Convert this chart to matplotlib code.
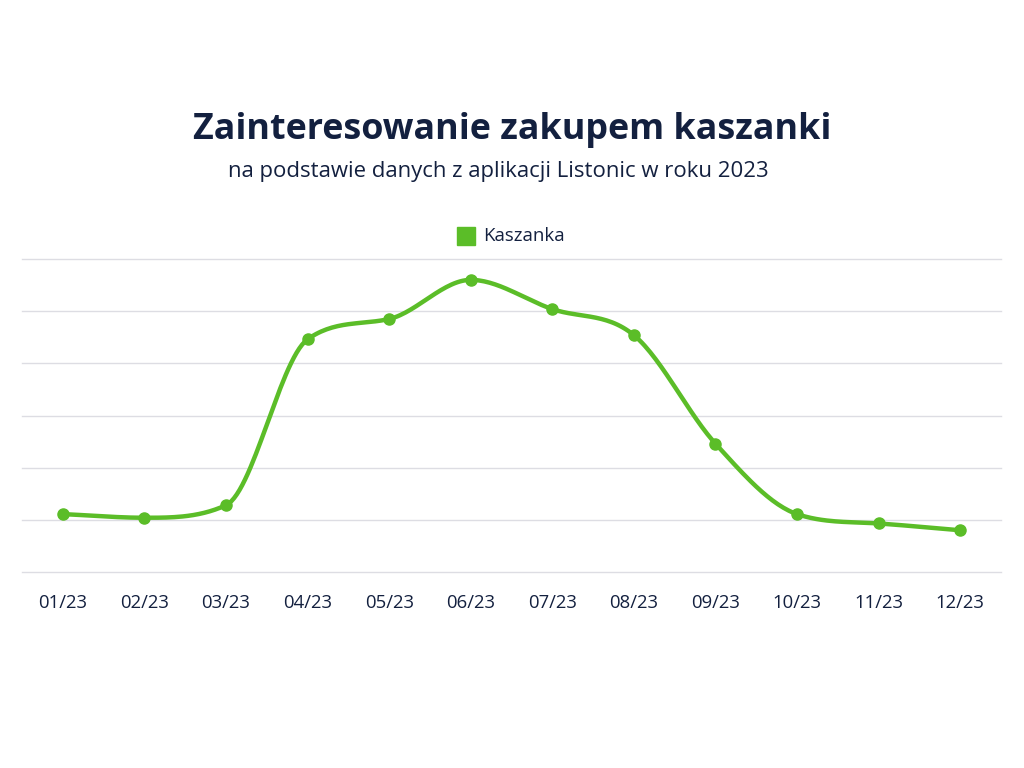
import numpy as np
import matplotlib
matplotlib.use("Agg")
import matplotlib.pyplot as plt

months = ["01/23", "02/23", "03/23", "04/23", "05/23", "06/23",
          "07/23", "08/23", "09/23", "10/23", "11/23", "12/23"]
kaszanka = [1.11, 1.04, 1.28, 4.46, 4.85, 5.60, 5.04, 4.54, 2.46, 1.11, 0.93, 0.80]

GREEN = "#5bbd28"
NAVY = "#13203f"
GRID = "#dddde3"

plt.rcParams["font.family"] = ["Open Sans", "DejaVu Sans"]


def monotone_curve(x, y, n=30):
    # monotone cubic (Fritsch-Carlson), only for drawing the smooth line
    x = np.asarray(x, float)
    y = np.asarray(y, float)
    h = np.diff(x)
    d = np.diff(y) / h
    m = np.zeros_like(y)
    m[0], m[-1] = d[0], d[-1]
    for i in range(1, len(y) - 1):
        if d[i - 1] * d[i] <= 0:
            m[i] = 0
        else:
            m[i] = (d[i - 1] + d[i]) / 2
    for i in range(len(d)):
        if d[i] == 0:
            m[i] = m[i + 1] = 0
            continue
        a, b = m[i] / d[i], m[i + 1] / d[i]
        s = a * a + b * b
        if s > 9:
            t = 3 / np.sqrt(s)
            m[i], m[i + 1] = t * a * d[i], t * b * d[i]
    xs, ys = [], []
    for i in range(len(d)):
        t = np.linspace(0, 1, n, endpoint=(i == len(d) - 1))
        h00 = 2 * t**3 - 3 * t**2 + 1
        h10 = t**3 - 2 * t**2 + t
        h01 = -2 * t**3 + 3 * t**2
        h11 = t**3 - t**2
        xs.append(x[i] + t * h[i])
        ys.append(h00 * y[i] + h10 * h[i] * m[i] + h01 * y[i + 1] + h11 * h[i] * m[i + 1])
    return np.concatenate(xs), np.concatenate(ys)


fig = plt.figure(figsize=(10.24, 7.68), dpi=100)
ax = fig.add_axes([22 / 1024, 1 - 572 / 768, 979 / 1024, 313 / 768])

xi = np.arange(len(months))
cx, cy = monotone_curve(xi, kaszanka)
ax.plot(cx, cy, color=GREEN, lw=3.2, solid_capstyle="round", zorder=3)
ax.plot(xi, kaszanka, "o", color=GREEN, ms=8, zorder=4)

ax.set_xlim(-0.5, len(months) - 0.5)
ax.set_ylim(0, 6)
ax.set_yticks(np.arange(0, 7))
ax.yaxis.grid(True, color=GRID, lw=1)
for gl in ax.get_ygridlines():
    gl.set_clip_on(False)
ax.set_axisbelow(True)
ax.tick_params(axis="y", left=False, labelleft=False)
ax.set_xticks(xi)
ax.set_xticklabels(months, fontsize=13.3, color=NAVY)
ax.tick_params(axis="x", length=0, pad=16)
for s in ax.spines.values():
    s.set_visible(False)

fig.text(0.5, 1 - 130 / 768, "Zainteresowanie zakupem kaszanki", ha="center",
         va="center", fontsize=25.8, fontweight="bold", color=NAVY)
fig.text(498 / 1024, 1 - 172 / 768, "na podstawie danych z aplikacji Listonic w roku 2023",
         ha="center", va="center", fontsize=15.9, color=NAVY)

# legend
fig.patches.append(plt.Rectangle((457 / 1024, 1 - 245 / 768), 18 / 1024, 18 / 768,
                                 transform=fig.transFigure, color=GREEN))
fig.text(483 / 1024, 1 - 236 / 768, "Kaszanka", ha="left", va="center",
         fontsize=13.4, color=NAVY)

fig.savefig("out.png", dpi=100)
